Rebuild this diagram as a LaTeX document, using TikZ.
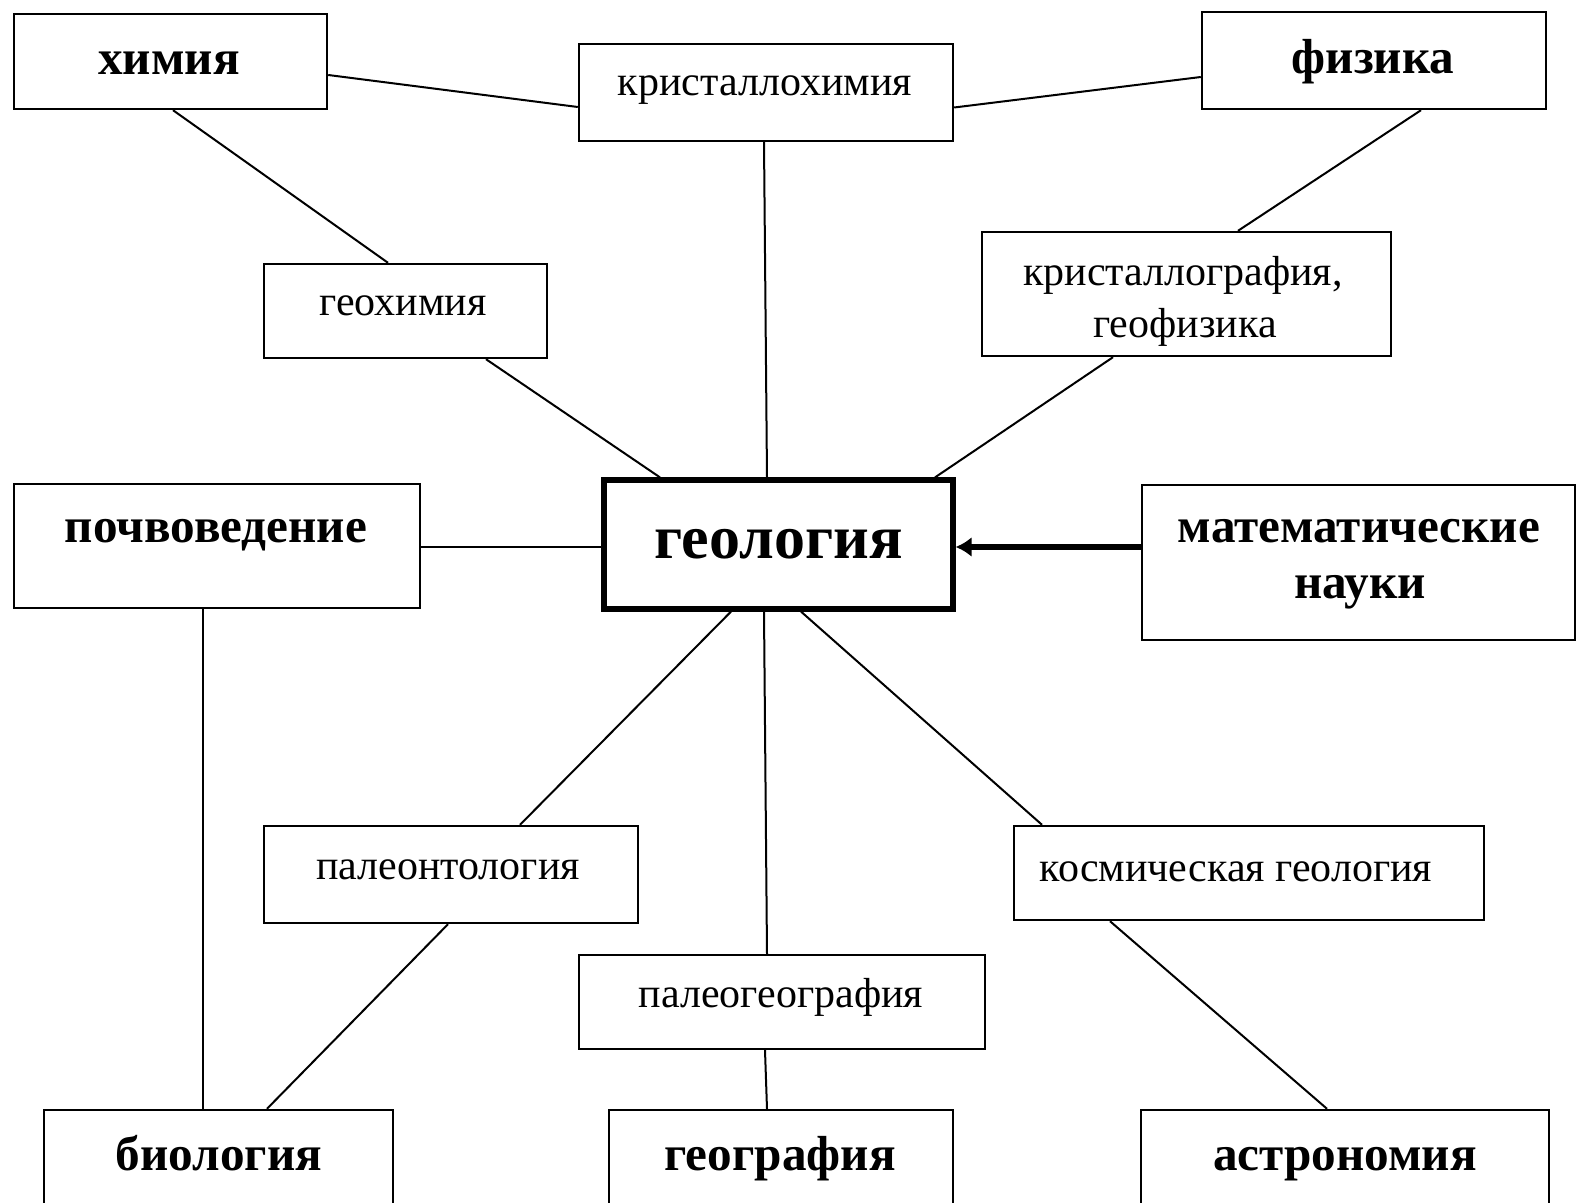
\documentclass[tikz,border=0pt]{standalone}
\usepackage{fontspec}
\setmainfont{Liberation Serif}
\usetikzlibrary{calc,arrows.meta}
\tikzset{
  box/.style={draw, line width=1.2pt, inner sep=0pt},
  geobox/.style={draw, line width=2.6pt, inner sep=0pt},
  conn/.style={line width=1pt},
  sm/.style={anchor=base, inner sep=0pt, font=\fontsize{21}{24}\selectfont},
  bd/.style={anchor=base, inner sep=0pt, font=\fontsize{24.6}{28}\selectfont\bfseries},
  bg/.style={anchor=base, inner sep=0pt, font=\fontsize{31}{35}\selectfont\bfseries},
}
\begin{document}
\begin{tikzpicture}[x=0.5pt,y=-0.5pt]
\useasboundingbox[fill=white] (0,0) rectangle (1576,1203);
% boxes
\node[box, minimum width=156.5pt, minimum height=47.5pt] (chem) at (170.5,61.5) {};
\node[box, minimum width=187pt, minimum height=48.5pt] (kch) at (766,92.5) {};
\node[box, minimum width=172pt, minimum height=48.5pt] (phys) at (1374,60.5) {};
\node[box, minimum width=141.5pt, minimum height=47pt] (gch) at (405.5,311) {};
\node[box, minimum width=204.5pt, minimum height=62pt] (kgf) at (1186.5,294) {};
\node[box, minimum width=203pt, minimum height=62pt] (soil) at (217,546) {};
\node[geobox, minimum width=174.5pt, minimum height=64.5pt] (geo) at (778.5,544.5) {};
\node[box, minimum width=216.5pt, minimum height=77.5pt] (math) at (1358.5,562.5) {};
\node[box, minimum width=187pt, minimum height=48.5pt] (pal) at (451,874.5) {};
\node[box, minimum width=235pt, minimum height=47pt] (cosm) at (1249,873) {};
\node[box, minimum width=203pt, minimum height=47pt] (pgeo) at (782,1002) {};
\node[box, minimum width=174.5pt, minimum height=75pt] (bio) at (218.5,1185) {};
\node[box, minimum width=172pt, minimum height=75pt] (geog) at (781,1185) {};
\node[box, minimum width=204pt, minimum height=75pt] (astr) at (1345,1185) {};
% texts
\node[bd] (chemT) at (169,75) {химия};
\node[sm] (kchT) at (765,96) {кристаллохимия};
\node[bd] (physT) at (1373,74) {физика};
\node[sm] (gchT) at (403,316) {геохимия};
\node[sm] (kgfT1) at (1183,285.5) {кристаллография,};
\node[sm] (kgfT2) at (1185,337.5) {геофизика};
\node[bd] (soilT) at (216,542.5) {почвоведение};
\node[bg] (geoT) at (778.5,559) {геология};
\node[bd] (mathT1) at (1359,542.5) {математические};
\node[bd] (mathT2) at (1360,598.5) {науки};
\node[sm] (palT) at (448,879.5) {палеонтология};
\node[sm] (cosmT) at (1236,881.5) {космическая геология};
\node[sm] (pgeoT) at (781,1007.5) {палеогеография};
\node[bd] (bioT) at (219,1170.5) {биология};
\node[bd] (geogT) at (780,1170.5) {география};
\node[bd] (astrT) at (1345,1170.5) {астрономия};
% connectors
\draw[conn] ($(chem.east)+(0,13.5)$) -- ($(kch.west)+(0,14.5)$);
\draw[conn] ($(phys.west)+(0,16.5)$) -- ($(kch.east)+(0,15)$);
\draw[conn] ($(chem.south)+(2.5,0)$) -- ($(gch.north)+(-17.5,0)$);
\draw[conn] ($(kch.south)+(-2,0)$) -- ($(geo.north)+(-11.5,0)$);
\draw[conn] ($(phys.south)+(47,0)$) -- ($(kgf.north)+(51.5,0)$);
\draw[conn] ($(gch.south)+(80.5,0)$) -- ($(geo.north)+(-118.5,0)$);
\draw[conn] ($(kgf.south)+(-73.5,0)$) -- ($(geo.north)+(156.5,0)$);
\draw[conn] ($(soil.east)+(0,1)$) -- ($(geo.west)+(0,2.5)$);
\draw[line width=3.2pt, -{Latex[length=8pt,width=10pt]}] ($(math.west)+(0,-15.5)$) -- ($(geo.east)+(0,2.5)$);
\draw[conn] ($(soil.south)+(-14,0)$) -- ($(bio.north)+(-15.5,0)$);
\draw[conn] ($(geo.south)+(-47.5,0)$) -- ($(pal.north)+(69,0)$);
\draw[conn] ($(geo.south)+(-14.5,0)$) -- ($(pgeo.north)+(-15,0)$);
\draw[conn] ($(geo.south)+(22.5,0)$) -- ($(cosm.north)+(-207,0)$);
\draw[conn] ($(pal.south)+(-3,0)$) -- ($(bio.north)+(48.5,0)$);
\draw[conn] ($(pgeo.south)+(-17,0)$) -- ($(geog.north)+(-14,0)$);
\draw[conn] ($(cosm.south)+(-139,0)$) -- ($(astr.north)+(-18,0)$);
\end{tikzpicture}
\end{document}
